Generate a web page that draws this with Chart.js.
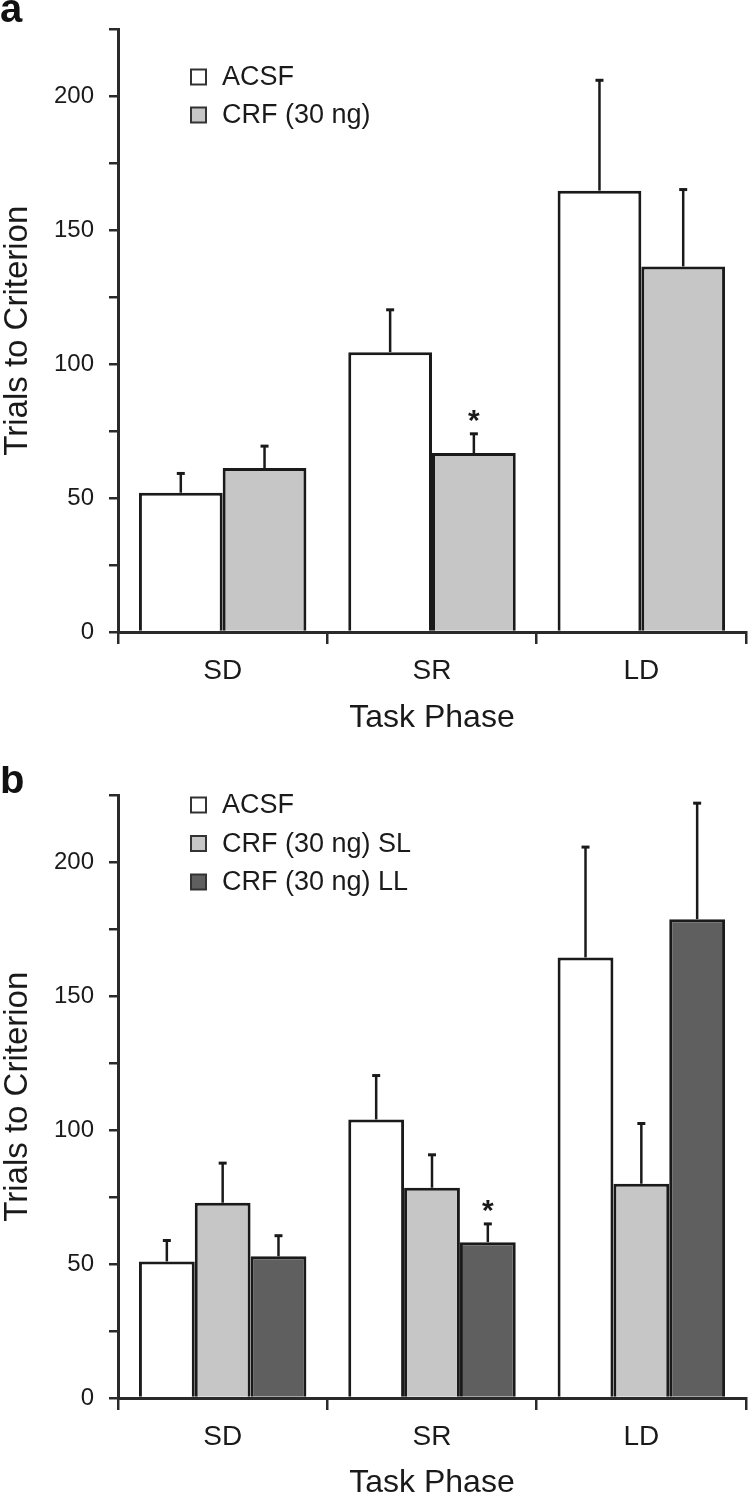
<!DOCTYPE html>
<html>
<head>
<meta charset="utf-8">
<title>Trials to Criterion</title>
<script src="https://cdn.jsdelivr.net/npm/chart.js@4.4.0/dist/chart.umd.min.js"></script>
<style>
html, body { margin: 0; padding: 0; background: #fff; overflow: hidden; }
#wrap { position: relative; width: 749px; height: 1500px; }
canvas { position: absolute; left: 0; }
#chA { top: 0; }
#chB { top: 766px; }
</style>
</head>
<body>
<div id="wrap">
	<canvas id="chA" width="749" height="766"></canvas>
	<canvas id="chB" width="749" height="734"></canvas>
</div>
<script>
// categories
var phases = ['SD', 'SR', 'LD'];

// panel a (means and SEM)
var acsfA = [52, 104.5, 164.8];
var acsfSemA = [7.2, 15.8, 41.2];
var crfA = [61.2, 66.8, 136.5];
var crfSemA = [8.2, 7.2, 28.7];
var crfStarA = [false, true, false];

// panel b
var acsfB = [51, 104, 164.5];
var acsfSemB = [7.8, 16.4, 41.2];
var crfSlB = [72.9, 78.5, 80];
var crfSlSemB = [14.8, 12.3, 22.5];
var crfLlB = [52.9, 58.2, 178.8];
var crfLlSemB = [7.7, 6.8, 43.3];
var crfLlStarB = [false, true, false];

// y axis: ticks every 25, labels every 50
var yMax = 225;
var yStep = 25;
var yLabelled = [0, 50, 100, 150, 200];

var FONT = '"Liberation Sans", Arial, sans-serif';
var INK = '#1a1a1a';

//Error bars, asterisks, the inside legend and the panel letter
var extrasPlugin = {
	id: 'extras',
	afterDatasetsDraw: function (chart) {
		var ctx = chart.ctx;
		var y = chart.scales.y;
		ctx.save();
		chart.data.datasets.forEach(function (ds, i) {
			var meta = chart.getDatasetMeta(i);
			meta.data.forEach(function (bar, j) {
				var top = y.getPixelForValue(ds.data[j] + ds.sem[j]);
				ctx.strokeStyle = INK;
				ctx.lineWidth = 2.5;
				ctx.beginPath();
				ctx.moveTo(bar.x, bar.y);
				ctx.lineTo(bar.x, top);
				ctx.stroke();
				ctx.lineWidth = 3;
				ctx.beginPath();
				ctx.moveTo(bar.x - 4, top);
				ctx.lineTo(bar.x + 4, top);
				ctx.stroke();
				if (ds.star && ds.star[j]) {
					ctx.fillStyle = INK;
					ctx.font = 'bold 30px ' + FONT;
					ctx.textAlign = 'center';
					ctx.textBaseline = 'alphabetic';
					ctx.fillText('*', bar.x, top - 21 + 17);
				}
			});
		});
		ctx.restore();
	},
	afterDraw: function (chart, args, opts) {
		var ctx = chart.ctx;
		ctx.save();
		// legend inside the plot
		chart.data.datasets.forEach(function (ds, i) {
			var cy = opts.legendY + i * opts.legendGap;
			ctx.fillStyle = ds.backgroundColor;
			ctx.fillRect(opts.legendX, cy - 7.5, 15, 15);
			ctx.strokeStyle = '#333';
			ctx.lineWidth = 2;
			ctx.strokeRect(opts.legendX, cy - 7.5, 15, 15);
			ctx.fillStyle = INK;
			ctx.font = '27px ' + FONT;
			ctx.textAlign = 'left';
			ctx.textBaseline = 'middle';
			ctx.fillText(ds.label, opts.legendX + 31, cy + 1);
		});
		// panel letter
		ctx.fillStyle = '#111';
		ctx.font = 'bold 40px ' + FONT;
		ctx.textAlign = 'left';
		ctx.textBaseline = 'alphabetic';
		ctx.fillText(opts.letter, 0, opts.letterY);
		ctx.restore();
	}
};

function makeChart(id, datasets, extras, xHeight, titlePad) {
	return new Chart(document.getElementById(id), {
		type: 'bar',
		data: { labels: phases, datasets: datasets },
		plugins: [extrasPlugin],
		options: {
			responsive: false,
			animation: false,
			devicePixelRatio: 1,
			layout: { padding: { top: 19, right: 3, left: 0, bottom: 0 } },
			datasets: { bar: { categoryPercentage: 0.8, barPercentage: 1.0, borderWidth: 3, borderColor: INK } },
			plugins: {
				legend: { display: false },
				tooltip: { enabled: false },
				extras: extras
			},
			scales: {
				x: {
					grid: { offset: true, drawOnChartArea: false, drawTicks: true, tickLength: 12, color: '#2a2a2a', lineWidth: 2.5 },
					border: { display: true, color: '#2a2a2a', width: 3 },
					ticks: { color: INK, font: { family: FONT, size: 28 }, padding: 10, maxRotation: 0 },
					title: { display: true, text: 'Task Phase', color: INK, font: { family: FONT, size: 32, lineHeight: 1 }, padding: { top: 0, bottom: titlePad } },
					afterFit: function (s) { s.height = xHeight; }
				},
				y: {
					min: 0,
					max: yMax,
					grid: { drawOnChartArea: false, drawTicks: true, tickLength: 9, color: '#2a2a2a', lineWidth: 2.5 },
					border: { display: true, color: '#2a2a2a', width: 3 },
					ticks: {
						stepSize: yStep,
						color: INK,
						font: { family: FONT, size: 24 },
						padding: 15,
						callback: function (v) { return yLabelled.indexOf(v) >= 0 ? v : ''; }
					},
					title: { display: true, text: 'Trials to Criterion', color: INK, font: { family: FONT, size: 33, lineHeight: 1 }, padding: { top: 1, bottom: 0 } },
					afterFit: function (s) { s.width = 118; }
				}
			}
		}
	});
}

// Panel a
makeChart('chA', [
	{ label: 'ACSF', data: acsfA, sem: acsfSemA, backgroundColor: '#ffffff' },
	{ label: 'CRF (30 ng)', data: crfA, sem: crfSemA, star: crfStarA, backgroundColor: '#c6c6c6' }
], { legendX: 191, legendY: 77, legendGap: 38, letter: 'a', letterY: 22 }, 134, 32);

// Panel b
makeChart('chB', [
	{ label: 'ACSF', data: acsfB, sem: acsfSemB, backgroundColor: '#ffffff' },
	{ label: 'CRF (30 ng) SL', data: crfSlB, sem: crfSlSemB, backgroundColor: '#c6c6c6' },
	{ label: 'CRF (30 ng) LL', data: crfLlB, sem: crfLlSemB, star: crfLlStarB, backgroundColor: '#5f5f5f' }
], { legendX: 191, legendY: 39, legendGap: 38.5, letter: 'b', letterY: 27 }, 102, 1);
</script>
</body>
</html>
